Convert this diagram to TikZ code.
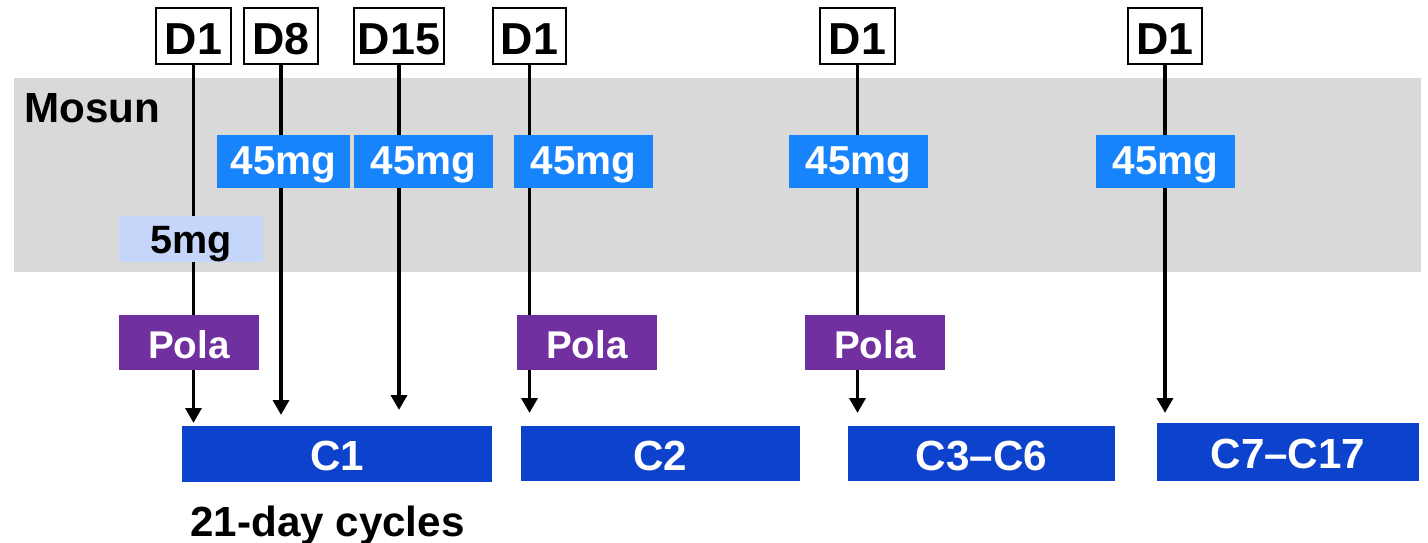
\documentclass[tikz,border=0pt]{standalone}
\usepackage{fontspec}
\setmainfont{Liberation Sans}
\usetikzlibrary{arrows.meta}
\definecolor{greyband}{HTML}{D9D9D9}
\definecolor{doseblue}{HTML}{1784FC}
\definecolor{cycblue}{HTML}{0D42CD}
\definecolor{polapurple}{HTML}{7030A0}
\definecolor{lowblue}{HTML}{C6D6FB}
\begin{document}
\begin{tikzpicture}[x=0.02cm,y=-0.02cm,
  dbox/.style={draw=black, line width=1.1pt, fill=white, inner sep=0pt, minimum height=1.12cm, text height=21.5pt, text depth=0pt, font=\fontsize{25.5}{27}\selectfont\bfseries},
  dose/.style={fill=doseblue, text=white, inner sep=0pt, minimum height=1.06cm, minimum width=2.78cm, text height=14.8pt, text depth=0pt, font=\fontsize{23}{24}\selectfont\bfseries},
  lowdose/.style={fill=lowblue, text=black, inner sep=0pt, minimum height=0.92cm, minimum width=2.88cm, text height=16.1pt, text depth=0pt, font=\fontsize{22.5}{24}\selectfont\bfseries},
  polabox/.style={fill=polapurple, text=white, inner sep=0pt, minimum height=1.1cm, minimum width=2.8cm, text height=18.6pt, text depth=0pt, font=\fontsize{22}{24}\selectfont\bfseries},
  cycbox/.style={fill=cycblue, text=white, inner sep=0pt, minimum height=1.12cm, text height=19.3pt, text depth=0pt, font=\fontsize{24}{26}\selectfont\bfseries},
  link/.style={line width=2.2pt, -{Triangle[width=9pt,length=8.5pt]}},
  lbl/.style={inner sep=0pt, font=\fontsize{24}{26}\selectfont\bfseries}]
\useasboundingbox (0,0) rectangle (1428,543);
\fill[greyband] (14,78) rectangle (1421,272);

% day boxes
\node[dbox, minimum width=1.50cm] (d1) at (193.5,36) {D1};
\node[dbox, minimum width=1.48cm] (d8) at (281,36) {D8};
\node[dbox, minimum width=1.80cm] (d15) at (399,36) {D15};
\node[dbox, minimum width=1.46cm] (d1b) at (529.5,36) {D1};
\node[dbox, minimum width=1.50cm] (d1c) at (857.5,36) {D1};
\node[dbox, minimum width=1.48cm] (d1d) at (1165,36) {D1};

% arrow ends
\coordinate (t1) at (193.5,423);
\coordinate (t8) at (281,415);
\coordinate (t15) at (399,410);
\coordinate (t1b) at (529.5,413);
\coordinate (t1c) at (857.5,413);
\coordinate (t1d) at (1165,413);

\draw[link] (d1) -- (t1);
\draw[link] (d8) -- (t8);
\draw[link] (d15) -- (t15);
\draw[link] (d1b) -- (t1b);
\draw[link] (d1c) -- (t1c);
\draw[link] (d1d) -- (t1d);

% dose boxes
\node[dose, minimum width=2.66cm] (m1) at (283.5,161.5) {45mg};
\node[dose] (m2) at (423.5,161.5) {45mg};
\node[dose] (m3) at (583.5,161.5) {45mg};
\node[dose] (m4) at (858.5,161.5) {45mg};
\node[dose] (m5) at (1165.5,161.5) {45mg};
\node[lowdose] (m0) at (191,239) {5mg};

\node[polabox] (p1) at (189,342.5) {Pola};
\node[polabox] (p2) at (587,342.5) {Pola};
\node[polabox] (p3) at (875,342.5) {Pola};

% cycles
\node[cycbox, minimum width=6.2cm] (c1) at (337,454) {C1};
\node[cycbox, minimum width=5.58cm] (c2) at (660.5,453.5) {C2};
\node[cycbox, minimum width=5.34cm] (c3) at (981.5,453.5) {C3–C6};
\node[cycbox, minimum width=5.24cm, minimum height=1.16cm] (c7) at (1288,452) {C7–C17};

% labels
\node[lbl, anchor=base west] (mosun) at (24,123) {Mosun};
\node[lbl, anchor=base] (cycles) at (327.5,537) {21-day cycles};
\end{tikzpicture}
\end{document}
